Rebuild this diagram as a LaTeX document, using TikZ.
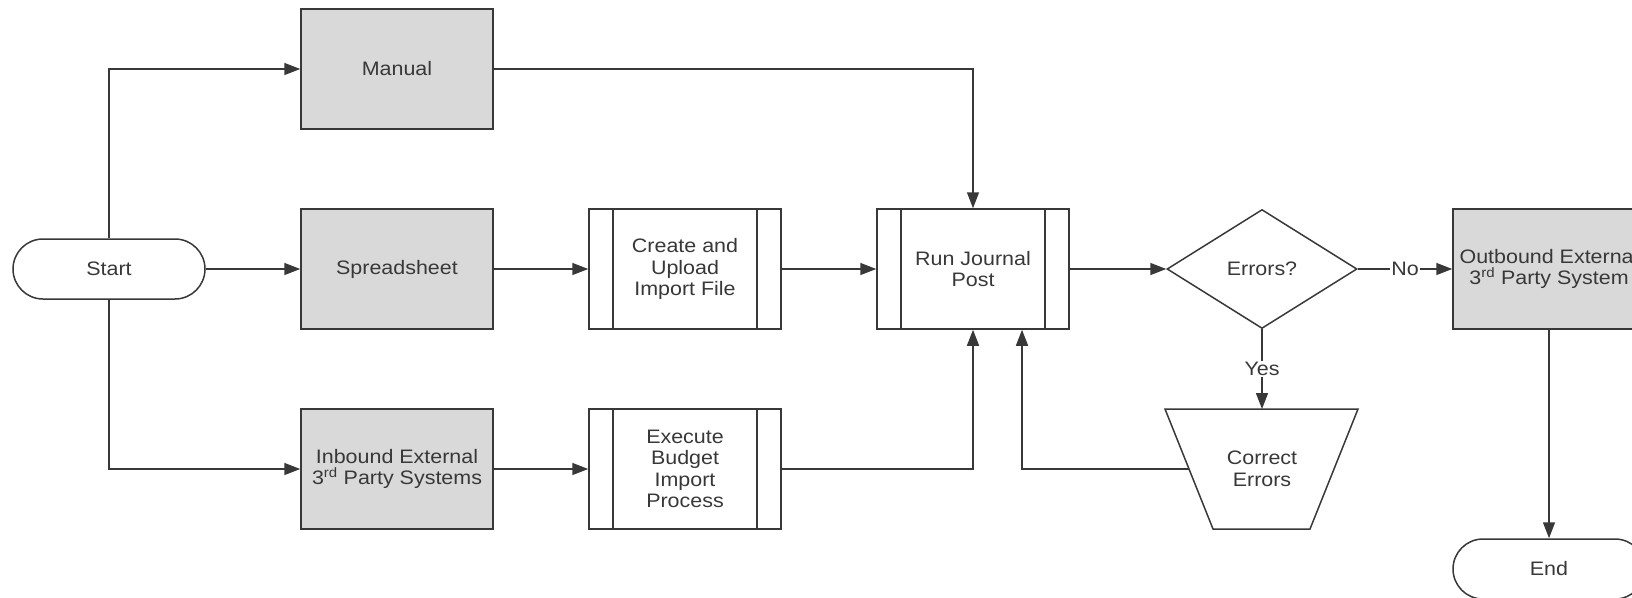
\documentclass[tikz,border=0pt]{standalone}
\usepackage{fontspec}
\setmainfont[FakeStretch=1.1]{Liberation Sans}
\usetikzlibrary{shapes.geometric,arrows.meta}
\definecolor{ink}{HTML}{383838}
\definecolor{boxgray}{HTML}{D9D9D9}
\tikzset{
  every node/.style={font=\fontsize{19.5}{21.5}\selectfont, text=ink, align=center},
  base/.style={draw=ink, line width=1.5pt, inner sep=0pt},
  terminal/.style={base, fill=white, rectangle, rounded corners=30pt, minimum width=192pt, minimum height=60pt},
  databox/.style={base, fill=boxgray, rectangle, minimum width=192pt, minimum height=120pt},
  subproc/.style={base, fill=white, rectangle, minimum width=192pt, minimum height=120pt,
    path picture={
      \draw[ink, line width=1.5pt] ([xshift=24pt]path picture bounding box.north west) -- ([xshift=24pt]path picture bounding box.south west);
      \draw[ink, line width=1.5pt] ([xshift=-24pt]path picture bounding box.north east) -- ([xshift=-24pt]path picture bounding box.south east);
    }},
  decision/.style={base, fill=white, diamond, aspect=1.6, minimum width=190pt, minimum height=119pt},
  arr/.style={draw=ink, line width=1.5pt, -{Triangle[length=16pt,width=12pt]}},
  lbl/.style={fill=white, inner sep=1pt}
}
\begin{document}
\begin{tikzpicture}[x=1pt, y=-1pt]
  \clip (0,0) rectangle (1632,597);
  \fill[white] (0,0) rectangle (1632,597);

  % terminals
  \node[terminal] (start) at (109,269) {Start};
  \node[terminal] (end) at (1549,569) {End};

  % data sources
  \node[databox] (manual) at (397,69) {Manual};
  \node[databox] (spread) at (397,269) {Spreadsheet};
  \node[databox] (inbound) at (397,469) {Inbound External\\3\textsuperscript{rd} Party Systems};

  % predefined processes
  \node[subproc] (create) at (685,269) {Create and\\Upload\\Import File};
  \node[subproc] (exec) at (685,469) {Execute\\Budget\\Import\\Process};
  \node[subproc] (run) at (973,269) {Run Journal\\Post};

  % decision and output
  \node[decision] (err) at (1262,269) {Errors?};
  \node[databox] (out) at (1549,269) {Outbound External\\3\textsuperscript{rd} Party System};

  % manual operation (inverted trapezoid)
  \draw[ink, line width=1.5pt, fill=white] (1165,409) -- (1358,409) -- (1310,529) -- (1213,529) -- cycle;
  \node (fix) at (1262,469) {Correct\\Errors};
  \coordinate (fixTop) at (1262,409);
  \coordinate (fixLeft) at (1189,469);

  % connectors
  \draw[arr] (start.north) |- (manual.west);
  \draw[arr] (start.east) -- (spread.west);
  \draw[arr] (start.south) |- (inbound.west);
  \draw[arr] (spread.east) -- (create.west);
  \draw[arr] (create.east) -- (run.west);
  \draw[arr] (inbound.east) -- (exec.west);
  \draw[arr] (manual.east) -| (run.north);
  \draw[arr] (exec.east) -| (run.south);
  \draw[arr] (fixLeft) -| ([xshift=49pt]run.south);
  \draw[arr] (run.east) -- (err.west);
  \draw[arr] (err.east) -- node[lbl] {No} (out.west);
  \draw[arr] (err.south) -- node[lbl] {Yes} (fixTop);
  \draw[arr] (out.south) -- (end.north);
\end{tikzpicture}
\end{document}
